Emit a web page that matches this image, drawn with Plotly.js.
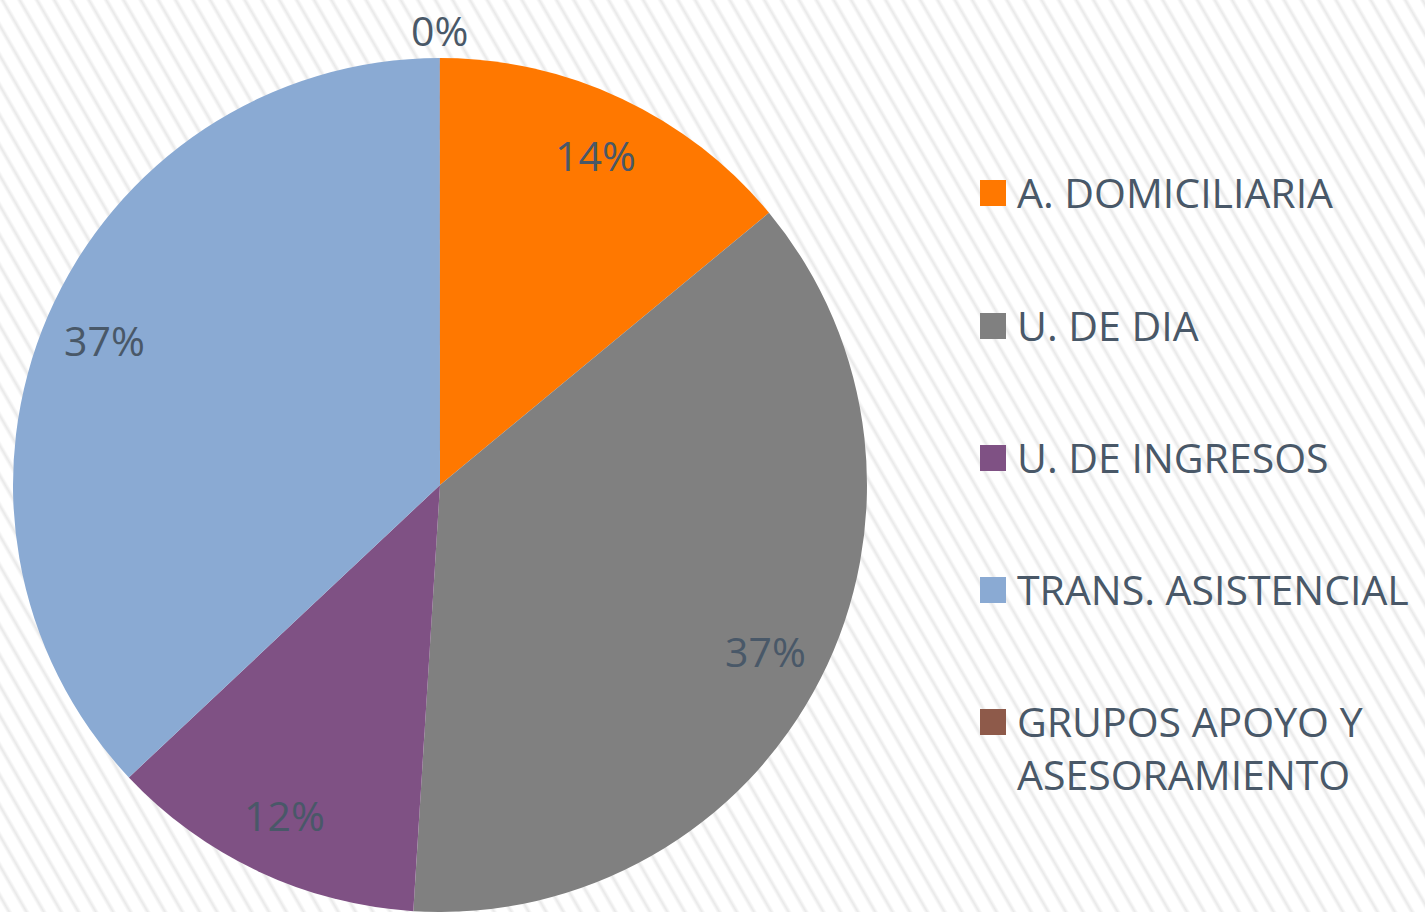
<!DOCTYPE html>
<html>
<head>
<meta charset="utf-8">
<script src="https://cdn.plot.ly/plotly-3.0.1.min.js"></script>
<style>
  html, body { margin: 0; padding: 0; width: 1425px; height: 912px; overflow: hidden;
    background-color: #ffffff;
    background-image: repeating-linear-gradient(60deg, #ffffff 0px, #ffffff 5px, #e9e9e9 8px, #ffffff 11px, #ffffff 15px);
  }
  #chart { width: 1425px; height: 912px; }
</style>
</head>
<body>
<div id="chart"></div>
<script>
const categories = ["A. DOMICILIARIA", "U. DE DIA", "U. DE INGRESOS", "TRANS. ASISTENCIAL", "GRUPOS APOYO Y<br>ASESORAMIENTO"];
const values = [14, 37, 12, 37, 0.01];
const colors = ["#FF7800", "#808080", "#7F5184", "#8AAAD3", "#8E5A4A"];

const W = 1425, H = 912;
const pieCx = 440, R = 427;
const domX = [(pieCx - R) / W, (pieCx + R) / W];
const domY = [0, (2 * R) / H];
const cyPx = H - R;
const textColor = "#495868";
const fontFam = "'Open Sans', 'Noto Sans', sans-serif";
const fontSize = 41;

const total = values.reduce((a, b) => a + b, 0);
const annotations = [];
let cum = 0;
values.forEach((v, i) => {
  const frac = v / total;
  const mid = (cum + frac / 2) * 2 * Math.PI;
  cum += frac;
  const pct = Math.round(frac * 100);
  const outside = frac < 0.01;
  const rf = outside ? 1.065 : 0.855;
  const px = pieCx + rf * R * Math.sin(mid);
  const py = cyPx - rf * R * Math.cos(mid);
  annotations.push({
    x: px / W, y: 1 - py / H, xref: "paper", yref: "paper",
    text: pct + "%", showarrow: false, xanchor: "center", yanchor: "middle",
    borderpad: 0,
    font: { family: fontFam, size: fontSize, color: textColor }
  });
});

const legendRows = [193, 326, 458, 590, 722];
const shapes = [];
categories.forEach((c, i) => {
  const yc = legendRows[i];
  shapes.push({
    type: "rect", xref: "paper", yref: "paper",
    x0: 980 / W, x1: 1006 / W, y0: 1 - (yc + 13) / H, y1: 1 - (yc - 13) / H,
    fillcolor: colors[i], line: { width: 0 }
  });
  annotations.push({
    x: 1016 / W, y: 1 - (yc - 30) / H, xref: "paper", yref: "paper",
    text: c, showarrow: false, xanchor: "left", yanchor: "top", align: "left",
    borderpad: 0,
    font: { family: fontFam, size: fontSize, color: textColor }
  });
});

const trace = {
  type: "pie",
  labels: categories,
  values: values,
  sort: false,
  direction: "clockwise",
  rotation: 0,
  marker: { colors: colors, line: { width: 0 } },
  textinfo: "none",
  hoverinfo: "label+percent",
  domain: { x: domX, y: domY },
  showlegend: false
};

const layout = {
  width: W, height: H,
  margin: { l: 0, r: 0, t: 0, b: 0 },
  paper_bgcolor: "rgba(0,0,0,0)",
  plot_bgcolor: "rgba(0,0,0,0)",
  showlegend: false,
  annotations: annotations,
  shapes: shapes
};

Plotly.newPlot("chart", [trace], layout, { displayModeBar: false, staticPlot: true });
</script>
</body>
</html>
